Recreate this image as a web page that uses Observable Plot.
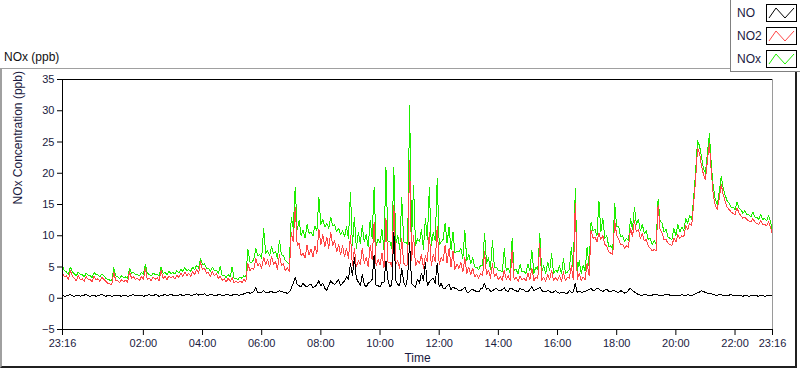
<!DOCTYPE html>
<html>
<head>
<meta charset="utf-8">
<script src="https://cdn.jsdelivr.net/npm/d3@7"></script>
<script src="https://cdn.jsdelivr.net/npm/@observablehq/plot@0.6"></script>
<style>
  body { margin: 0; background: #fff; }
  #wrap { position: relative; width: 800px; height: 369px; overflow: hidden; font-family: "Liberation Sans", Arial, sans-serif; }
  #chart { position: absolute; left: 0; top: 0; }
  #panel { position: absolute; left: 0; top: 68px; width: 797px; height: 300px; box-sizing: border-box;
           border-left: 2px solid #a0a0a0; border-top: 1px solid #a0a0a0; border-right: 2px solid #202020; border-bottom: 2px solid #202020; }
  #title { position: absolute; left: 4px; top: 50px; font-size: 12px; line-height: 14px; color: #111; }
  #legend { position: absolute; left: 730px; top: 0; width: 70px; height: 72px; box-sizing: border-box; background: #fff;
            border-left: 1px solid #808080; border-bottom: 1px solid #808080; }
  .item { position: absolute; left: 6px; font-size: 12px; line-height: 14px; color: #1a1a40; }
  .sw { position: absolute; left: 35px; }
</style>
</head>
<body>
<div id="wrap">
  <div id="chart"></div>
  <div id="panel"></div>
  <div id="title">NOx (ppb)</div>
  <div id="legend"></div>
</div>
<script>
// ---- data ----
// main samples: every 8 minutes from 23:16 (band tops / spikes)
const startTime = "23:16";
const stepMinutes = 8;

const NOx = [
  5.2, 4.2, 5.0, 3.9, 4.2, 3.8, 4.0, 3.6, 4.1, 3.7,
  3.9, 3.2, 2.9, 4.9, 3.4, 3.6, 3.4, 4.8, 4.1, 3.8,
  4.1, 5.4, 3.8, 4.0, 3.8, 5.0, 4.1, 4.3, 4.1, 4.4,
  4.6, 4.9, 4.6, 5.0, 5.3, 6.4, 5.5, 4.8, 5.0, 4.5,
  5.1, 3.7, 3.8, 5.0, 3.2, 3.4, 3.6, 7.9, 5.8, 8.0,
  7.0, 11.2, 7.6, 8.2, 7.5, 9.3, 6.8, 5.8, 13.0, 17.8,
  12.5, 10.9, 11.8, 10.6, 11.6, 16.2, 12.6, 12.0, 13.0, 11.8,
  11.2, 10.8, 11.4, 17.0, 13.0, 10.5, 11.6, 10.2, 12.5, 17.8,
  9.5, 11.0, 20.9, 9.0, 20.9, 10.0, 16.2, 9.0, 30.8, 18.1,
  9.5, 11.0, 12.8, 17.7, 10.5, 19.1, 9.0, 12.0, 11.4, 10.6,
  7.5, 8.0, 10.9, 7.0, 6.5, 5.0, 5.3, 10.4, 6.5, 9.3,
  5.0, 4.4, 7.9, 4.8, 9.6, 4.6, 5.4, 4.3, 5.5, 7.7,
  5.0, 10.3, 5.2, 5.8, 7.1, 4.5, 5.2, 6.3, 4.2, 8.2,
  17.5, 6.0, 5.3, 8.2, 12.2, 11.0, 15.6, 12.8, 10.0, 8.4,
  15.2, 11.5, 10.0, 9.6, 12.8, 14.6, 12.6, 11.8, 10.8, 9.6,
  9.2, 15.9, 12.0, 11.0, 9.6, 11.2, 11.8, 11.4, 12.8, 13.2,
  16.0, 25.2, 22.6, 20.0, 26.3, 17.8, 15.0, 19.5, 16.5, 15.2,
  14.6, 15.4, 14.2, 14.0, 13.4, 13.8, 13.0, 13.4, 12.8, 13.2, 10.6
];

const NO2 = [
  4.0, 3.6, 4.4, 3.2, 3.6, 3.1, 3.5, 3.0, 3.5, 3.1,
  3.3, 2.7, 2.3, 4.2, 2.8, 3.0, 2.9, 4.3, 3.4, 3.2,
  3.5, 4.8, 3.2, 3.4, 3.3, 4.4, 3.5, 3.6, 3.5, 3.7,
  4.0, 4.2, 4.0, 4.3, 4.6, 5.8, 4.8, 4.1, 4.3, 3.9,
  3.5, 3.1, 3.2, 3.3, 2.7, 2.8, 3.0, 5.6, 4.8, 6.4,
  5.6, 6.6, 6.2, 6.7, 5.9, 7.0, 5.5, 4.9, 10.6, 14.6,
  8.8, 7.2, 8.5, 7.8, 8.4, 11.0, 10.2, 9.8, 10.6, 9.2,
  8.6, 8.4, 8.0, 10.0, 8.0, 6.0, 8.0, 6.5, 8.5, 12.2,
  6.2, 7.2, 12.8, 5.8, 14.9, 6.0, 9.5, 5.2, 22.0, 10.1,
  6.0, 7.0, 6.8, 10.5, 7.0, 11.5, 6.5, 8.5, 8.0, 7.5,
  5.5, 5.8, 6.5, 5.0, 4.8, 3.8, 4.0, 7.4, 4.5, 5.5,
  3.9, 3.5, 4.5, 3.6, 7.7, 3.4, 3.6, 3.2, 4.0, 4.8,
  3.4, 8.8, 3.4, 3.8, 4.5, 3.3, 3.6, 4.2, 3.3, 5.2,
  15.2, 4.0, 3.4, 5.6, 10.9, 9.8, 10.4, 10.0, 8.3, 7.2,
  12.4, 9.5, 8.6, 8.4, 11.2, 12.4, 11.0, 10.3, 9.4, 8.0,
  7.8, 14.9, 10.4, 9.4, 8.6, 9.6, 10.2, 10.0, 11.6, 12.0,
  15.0, 24.0, 21.2, 19.0, 24.8, 16.5, 14.2, 18.2, 15.5, 14.2,
  13.6, 14.5, 13.2, 13.0, 12.4, 12.8, 12.0, 12.4, 11.8, 12.2, 10.2
];

const NO = [
  0.5, 0.4, 0.6, 0.3, 0.5, 0.4, 0.6, 0.3, 0.5, 0.4,
  0.6, 0.3, 0.5, 0.4, 0.5, 0.3, 0.5, 0.4, 0.6, 0.4,
  0.5, 0.4, 0.6, 0.4, 0.5, 0.4, 0.6, 0.5, 0.5, 0.4,
  0.6, 0.5, 0.6, 0.5, 0.7, 0.6, 0.7, 0.5, 0.6, 0.4,
  0.6, 0.5, 0.6, 0.5, 0.6, 0.5, 0.7, 1.0, 0.9, 1.7,
  1.0, 1.2, 0.9, 1.1, 1.0, 1.2, 1.0, 0.8, 1.6, 3.4,
  2.0, 2.4, 1.8, 2.2, 1.9, 2.8, 2.4, 1.3, 2.8, 2.2,
  3.0, 2.4, 3.4, 5.5, 6.6, 2.6, 3.8, 1.8, 2.6, 6.9,
  2.0, 2.5, 6.0, 1.8, 10.6, 2.2, 4.8, 1.8, 9.0, 2.0,
  3.0, 4.0, 5.8, 2.6, 3.2, 5.6, 2.4, 1.6, 2.2, 1.8,
  1.5, 1.2, 1.8, 1.0, 1.4, 1.1, 1.5, 2.4, 1.6, 1.2,
  1.6, 1.2, 1.7, 1.1, 1.5, 1.2, 1.6, 1.3, 1.1, 1.9,
  1.4, 1.8, 1.1, 1.3, 0.9, 1.2, 0.8, 1.0, 0.8, 1.0,
  2.4, 1.1, 1.0, 1.2, 1.6, 1.3, 1.5, 1.1, 1.4, 1.0,
  1.2, 0.9, 1.1, 0.9, 1.6, 1.0, 0.6, 0.5, 0.6, 0.4,
  0.6, 0.5, 0.4, 0.6, 0.5, 0.4, 0.5, 0.6, 0.4, 0.5,
  0.6, 0.9, 1.2, 0.9, 0.8, 0.6, 0.5, 0.6, 0.4, 0.5,
  0.4, 0.5, 0.4, 0.5, 0.3, 0.5, 0.4, 0.5, 0.3, 0.5, 0.5
];

// in-between samples (4 minutes after each main sample): band bottoms
const NOxMid = [
  4.4, 3.8, 4.2, 3.6, 3.8, 3.4, 3.7, 3.3, 3.8, 3.4,
  3.6, 3.0, 2.8, 3.6, 3.2, 3.3, 3.2, 4.0, 3.8, 3.6,
  3.8, 4.0, 3.6, 3.8, 3.6, 4.0, 3.8, 4.0, 3.9, 4.1,
  4.3, 4.4, 4.3, 4.6, 4.8, 5.4, 4.8, 4.3, 4.4, 4.0,
  3.6, 3.3, 3.4, 3.2, 3.0, 3.2, 3.4,
  5.8, 6.2, 6.8, 6.4, 7.2, 6.8, 7.2, 6.4, 7.0, 6.0, 5.4,
  11.2, 11.0, 10.0, 9.6, 10.4, 10.0, 10.8, 11.8, 11.4, 11.2, 11.6, 10.6, 10.2, 9.8, 9.6,
  8.4, 8.0, 8.8, 9.0, 8.2, 9.6, 8.4, 8.8, 7.8, 9.2,
  8.0, 8.8, 7.8, 9.0, 8.6, 9.6, 8.4, 9.0, 7.8, 9.4,
  8.4, 9.2, 8.6, 9.4, 8.8, 7.8, 7.2, 7.4, 6.4, 6.0,
  5.6, 5.0, 4.6, 5.2, 5.6, 4.6, 5.0, 4.4,
  4.2, 4.4, 4.0, 4.4, 3.9, 4.2, 4.0, 4.4, 4.0, 4.6,
  4.2, 3.9, 4.4, 4.0, 4.2, 3.9, 4.0, 4.6, 4.4, 4.3, 4.0, 4.4, 5.0,
  10.8, 10.0, 10.6, 9.6, 8.2, 7.8, 11.4, 9.8, 9.0, 9.2,
  11.0, 11.8, 10.8, 10.4, 9.4, 8.6, 8.6, 12.4, 10.6, 9.8,
  9.4, 10.0, 10.6, 10.8, 12.0, 12.6,
  20.2, 24.4, 20.8, 23.2, 21.2, 15.8, 17.0, 17.6, 15.6, 14.6,
  14.2, 14.4, 13.6, 13.4, 13.0, 13.0, 12.6, 12.6, 12.4, 12.2
];

const NO2Mid = [
  3.4, 3.0, 3.5, 2.8, 3.0, 2.7, 3.0, 2.6, 3.0, 2.7,
  3.0, 2.4, 2.2, 2.8, 2.5, 2.6, 2.5, 3.2, 3.0, 2.8,
  3.0, 3.0, 2.8, 3.0, 2.8, 3.2, 3.0, 3.2, 3.1, 3.3,
  3.5, 3.6, 3.5, 3.8, 4.0, 4.6, 4.0, 3.5, 3.6, 3.2,
  2.9, 2.6, 2.7, 2.5, 2.4, 2.5, 2.7,
  4.4, 4.6, 5.2, 4.8, 5.4, 5.0, 5.4, 4.6, 5.2, 4.4, 4.2,
  9.0, 8.5, 6.8, 6.4, 7.0, 6.6, 7.2, 8.6, 8.2, 8.0, 8.4, 7.4, 7.0, 6.6, 6.4,
  5.2, 5.0, 5.4, 5.6, 5.0, 6.2, 5.2, 5.4, 4.8, 5.8,
  5.0, 5.4, 4.8, 5.6, 5.4, 6.0, 5.2, 5.6, 4.8, 5.8,
  5.2, 5.8, 5.4, 6.0, 5.6, 5.0, 4.6, 4.8, 4.2, 4.0,
  3.8, 3.4, 3.2, 3.6, 3.8, 3.2, 3.4, 3.0,
  2.9, 3.0, 2.8, 3.0, 2.7, 2.9, 2.8, 3.0, 2.8, 3.1,
  2.9, 2.7, 3.0, 2.8, 2.9, 2.7, 2.8, 3.2, 3.0, 3.0, 2.8, 3.0, 3.6,
  9.6, 9.0, 9.4, 8.6, 7.4, 7.0, 10.0, 8.6, 8.0, 8.2,
  9.8, 10.6, 9.6, 9.2, 8.4, 7.6, 7.6, 11.0, 9.4, 8.8,
  8.4, 9.0, 9.6, 9.8, 11.0, 11.6,
  19.0, 23.2, 19.8, 22.0, 20.0, 14.8, 16.0, 16.6, 14.6, 13.8,
  13.4, 13.6, 12.8, 12.6, 12.2, 12.2, 11.8, 11.8, 11.6, 11.4
];

const NOMid = [
  0.3, 0.5, 0.4, 0.5, 0.3, 0.5, 0.4, 0.5, 0.3, 0.5,
  0.4, 0.5, 0.3, 0.5, 0.4, 0.5, 0.3, 0.5, 0.4, 0.5,
  0.3, 0.5, 0.4, 0.6, 0.3, 0.5, 0.4, 0.6, 0.4, 0.5,
  0.4, 0.6, 0.5, 0.6, 0.5, 0.6, 0.5, 0.6, 0.4, 0.6,
  0.4, 0.6, 0.4, 0.6, 0.5, 0.6, 0.8,
  0.8, 1.1, 0.9, 1.0, 0.9, 1.0, 0.9, 1.0, 1.1, 0.9, 1.0,
  2.4, 2.2, 1.8, 2.0, 2.1, 1.7, 2.2, 2.0, 1.6, 2.0, 2.4, 2.6, 2.0, 2.8, 3.0,
  3.6, 3.2, 2.0, 2.2, 2.4, 3.0, 2.0, 1.8, 2.6, 3.0,
  2.2, 2.8, 2.0, 2.6, 3.4, 2.4, 1.8, 2.4, 2.8, 2.0,
  3.0, 2.4, 1.8, 1.6, 2.0, 1.4, 1.6, 1.2, 1.5, 1.0,
  1.3, 1.2, 1.0, 1.6, 1.4, 1.1, 1.4, 1.3,
  1.4, 1.2, 1.6, 1.3, 1.0, 1.4, 1.0, 1.4, 1.2, 1.5,
  1.2, 1.0, 1.1, 1.0, 0.9, 1.0, 0.8, 1.2, 1.0, 0.9, 1.0, 1.1, 1.4,
  1.2, 1.6, 1.2, 1.3, 1.1, 1.3, 1.0, 1.2, 0.8, 1.3,
  1.2, 0.8, 0.5, 0.6, 0.4, 0.5, 0.6, 0.4, 0.5, 0.6,
  0.4, 0.5, 0.4, 0.5, 0.6, 0.4,
  0.7, 1.0, 1.1, 0.8, 0.7, 0.5, 0.6, 0.4, 0.5, 0.6,
  0.4, 0.5, 0.3, 0.5, 0.4, 0.4, 0.3, 0.5, 0.4, 0.4
];

const seriesNames = ["NO", "NO2", "NOx"];
const seriesColors = ["#000000", "#ff4646", "#1eee00"];
const xTickLabels = ["23:16", "02:00", "04:00", "06:00", "08:00", "10:00", "12:00", "14:00", "16:00", "18:00", "20:00", "22:00", "23:16"];
const yTicks = [-5, 0, 5, 10, 15, 20, 25, 30, 35];
const yLabel = "NOx Concentration (ppb)";
const xLabel = "Time";

// ---- build tables (interleave main and in-between samples) ----
const [sh, sm] = startTime.split(":").map(Number);
const t0 = Date.UTC(2000, 0, 1, sh, sm);
const tEnd = new Date(t0 + 24 * 3600e3);
const rows = (main, mid) => {
  const out = [];
  main.forEach((v, i) => {
    out.push({ t: new Date(t0 + i * stepMinutes * 60e3), v });
    if (i < mid.length) out.push({ t: new Date(t0 + (i * stepMinutes + stepMinutes / 2) * 60e3), v: mid[i] });
  });
  return out;
};

const majorTicks = xTickLabels.map((s, i) => {
  if (i === 0) return new Date(t0);
  if (i === xTickLabels.length - 1) return tEnd;
  const [h, m] = s.split(":").map(Number);
  return new Date(Date.UTC(2000, 0, 2, h, m));
});
const minorTicks = d3.utcMinute.every(15).range(new Date(t0 + 60e3), tEnd);

const fmt = d3.utcFormat("%H:%M");

const marks = [
  Plot.lineY(rows(NOx, NOxMid), { x: "t", y: "v", stroke: seriesColors[2], strokeWidth: 1, shapeRendering: "crispEdges" }),
  Plot.lineY(rows(NO2, NO2Mid), { x: "t", y: "v", stroke: seriesColors[1], strokeWidth: 1, shapeRendering: "crispEdges" }),
  Plot.lineY(rows(NO, NOMid), { x: "t", y: "v", stroke: seriesColors[0], strokeWidth: 1, shapeRendering: "crispEdges" }),
  Plot.ruleX([tEnd], { stroke: "#9a9a9a" }),
  Plot.ruleY([35], { stroke: "#000" }),
  Plot.ruleY([-5], { stroke: "#000" }),
  Plot.ruleX([new Date(t0)], { stroke: "#000" }),
  Plot.axisY({ ticks: yTicks, tickSize: 5, tickPadding: 3, label: null, fill: "#1a1a40", stroke: "#000" }),
  Plot.axisX({ ticks: majorTicks, tickFormat: fmt, tickSize: 6, tickPadding: 4, label: null, fill: "#1a1a40", stroke: "#000" }),
  Plot.text([yLabel], { text: d => d, frameAnchor: "left", dx: -44, rotate: -90, fontSize: 12, fill: "#1a1a40" }),
  Plot.text([xLabel], { text: d => d, frameAnchor: "bottom", dy: 32, fontSize: 12, fill: "#1a1a40" })
];
if (Plot.axisTickX) {
  marks.push(Plot.axisTickX({ ticks: minorTicks, tickSize: 3, stroke: "#000" }));
}

const chart = Plot.plot({
  width: 800,
  height: 369,
  marginLeft: 62,
  marginRight: 28,
  marginTop: 79,
  marginBottom: 40,
  style: { background: "transparent", fontFamily: "Liberation Sans, Arial, sans-serif", fontSize: "11px", color: "#1a1a40" },
  x: { type: "utc", domain: [new Date(t0), tEnd] },
  y: { domain: [-5, 35] },
  marks
});
document.getElementById("chart").appendChild(chart);

// ---- legend ----
const legend = document.getElementById("legend");
seriesNames.forEach((name, i) => {
  const top = 4 + i * 23;
  const label = document.createElement("div");
  label.className = "item";
  label.style.top = (top + 2) + "px";
  label.textContent = name;
  legend.appendChild(label);
  const ns = "http://www.w3.org/2000/svg";
  const sw = document.createElementNS(ns, "svg");
  sw.setAttribute("class", "sw");
  sw.setAttribute("width", "31");
  sw.setAttribute("height", "18");
  sw.style.top = top + "px";
  const r = document.createElementNS(ns, "rect");
  r.setAttribute("x", "0.5"); r.setAttribute("y", "0.5");
  r.setAttribute("width", "30"); r.setAttribute("height", "17");
  r.setAttribute("fill", "#fff"); r.setAttribute("stroke", "#000");
  sw.appendChild(r);
  const p = document.createElementNS(ns, "polyline");
  p.setAttribute("points", "3,14 10,4 19,14 28,4");
  p.setAttribute("fill", "none"); p.setAttribute("stroke", seriesColors[i]); p.setAttribute("stroke-width", "1");
  sw.appendChild(p);
  legend.appendChild(sw);
});
</script>
</body>
</html>
